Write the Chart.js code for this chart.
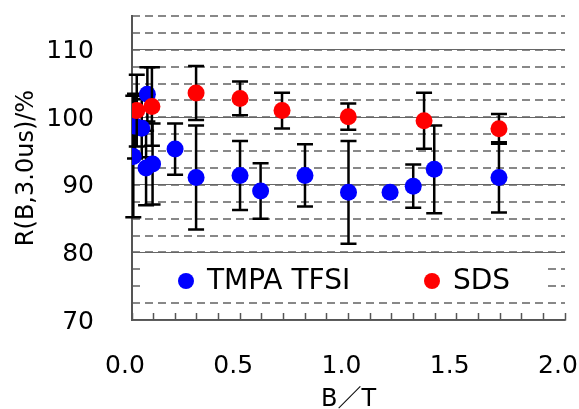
<!DOCTYPE html>
<html><head><meta charset="utf-8">
<script src="https://cdn.jsdelivr.net/npm/chart.js@4/dist/chart.umd.min.js"></script>
<style>html,body{margin:0;padding:0;background:#fff}#wrap{width:579px;height:409px}</style>
</head><body><div id="wrap"><canvas id="c" width="579" height="409"></canvas></div>
<script>
// ---- data ----
const seriesNames = ['TMPA TFSI', 'SDS'];
const tmpaB   = [0.006, 0.014, 0.045, 0.065, 0.071, 0.095, 0.199, 0.296, 0.499, 0.594, 0.799, 1.000, 1.192, 1.299, 1.396, 1.695];
const tmpaR   = [94.2, 98.7, 98.4, 92.5, 103.4, 93.1, 95.3, 91.1, 91.4, 89.1, 91.4, 88.9, 88.9, 89.8, 92.3, 91.1];
const tmpaErr = [9.0, 4.8, 4.3, 5.5, 4.0, 6.0, 3.8, 7.7, 5.1, 4.1, 4.6, 7.6, 0.1, 3.2, 6.5, 5.2];
const sdsB    = [0.022, 0.092, 0.296, 0.499, 0.693, 0.999, 1.349, 1.695];
const sdsR    = [101.0, 101.6, 103.6, 102.8, 101.0, 100.1, 99.5, 98.3];
const sdsErr  = [5.3, 5.8, 4.0, 2.5, 2.65, 1.95, 4.15, 2.2];
const yTickValues = [70, 80, 90, 100, 110];
const xTickLabels = ['0.0', '0.5', '1.0', '1.5', '2.0'];
const xTitle = 'B／T';
const yTitle = 'R(B,3.0us)/%';

const FONT = '"DejaVu Sans", "Noto Sans CJK JP", sans-serif';

const errorBars = {
  id: 'errorBars',
  beforeDatasetDraw(chart, args) {
    const ds = chart.data.datasets[args.index];
    if (!ds.errors) return;
    const ctx = chart.ctx, xs = chart.scales.x, ys = chart.scales.y;
    ctx.save();
    ctx.strokeStyle = '#000';
    ctx.lineWidth = 2.5;
    ds.data.forEach((p, i) => {
      const e = ds.errors[i];
      const px = xs.getPixelForValue(p.x);
      const top = ys.getPixelForValue(p.y + e), bot = ys.getPixelForValue(p.y - e);
      ctx.beginPath();
      ctx.moveTo(px, top); ctx.lineTo(px, bot);
      ctx.moveTo(px - 8, top); ctx.lineTo(px + 8, top);
      ctx.moveTo(px - 8, bot); ctx.lineTo(px + 8, bot);
      ctx.stroke();
    });
    ctx.restore();
  }
};

const insideLegend = {
  id: 'insideLegend',
  beforeDatasetsDraw(chart) {
    const {ctx, chartArea: a} = chart;
    ctx.save();
    ctx.fillStyle = '#ffffff';
    ctx.fillRect(a.left + 8, a.bottom - 64, a.right - a.left - 26, 44);
    ctx.font = '28px ' + FONT;
    ctx.textBaseline = 'middle';
    ctx.textAlign = 'left';
    const offs = [54, 300];
    chart.data.datasets.forEach((ds, i) => {
      const cx = a.left + offs[i], cy = a.bottom - 39;
      ctx.fillStyle = ds.backgroundColor;
      ctx.beginPath(); ctx.arc(cx, cy, 8, 0, Math.PI * 2); ctx.fill();
      ctx.fillStyle = '#000';
      ctx.fillText(ds.label, cx + 21, cy + 1);
    });
    ctx.restore();
  }
};

new Chart(document.getElementById('c'), {
  type: 'scatter',
  data: {
    datasets: [
      { label: seriesNames[0], data: tmpaB.map((b, i) => ({x: b, y: tmpaR[i]})), errors: tmpaErr,
        backgroundColor: '#0000ff', borderWidth: 0, pointRadius: 8.5, order: 2 },
      { label: seriesNames[1], data: sdsB.map((b, i) => ({x: b, y: sdsR[i]})), errors: sdsErr,
        backgroundColor: '#ff0000', borderWidth: 0, pointRadius: 8.5, order: 1 }
    ]
  },
  options: {
    responsive: false, animation: false, devicePixelRatio: 1,
    layout: { padding: { left: 0, right: 14, top: 16, bottom: 0 } },
    plugins: { legend: { display: false }, tooltip: { enabled: false } },
    scales: {
      x: {
        type: 'linear', position: 'bottom', min: 0, max: 2,
        afterFit: s => { s.height = 89; s.paddingLeft = 0; s.paddingRight = 0; },
        ticks: {
          stepSize: 0.1, autoSkip: false, maxRotation: 0, padding: 38, labelOffset: -7,
          color: '#000', font: { family: FONT, size: 25 },
          callback: v => {
            const k = Math.round(v * 2);
            return Math.abs(v * 2 - k) < 1e-6 ? xTickLabels[k] : '';
          }
        },
        grid: { drawOnChartArea: false, drawTicks: true, tickLength: -7, tickColor: '#555', tickWidth: 1.5 },
        border: { display: true, color: '#555', width: 1.5 },
        title: { display: true, text: xTitle, color: '#000', font: { family: FONT, size: 24, lineHeight: 0.75 }, padding: { top: 0, bottom: 0 } }
      },
      y: {
        type: 'linear', position: 'left', min: 70, max: 115,
        afterBuildTicks: s => { s.ticks = yTickValues.map(v => ({value: v})); },
        afterFit: s => { s.width = 132; s.paddingTop = 0; s.paddingBottom = 0; },
        ticks: { padding: 38, labelOffset: 2, color: '#000', font: { family: FONT, size: 25 } },
        grid: { color: '#666', lineWidth: 1, drawTicks: false, z: -1 },
        border: { display: true, color: '#555', width: 2 },
        title: { display: true, text: yTitle, color: '#000', font: { family: FONT, size: 24 }, padding: { top: 12, bottom: 0 } }
      },
      y2: {
        type: 'linear', position: 'right', min: 70, max: 115,
        afterFit: s => { s.width = 0; s.paddingTop = 0; s.paddingBottom = 0; },
        ticks: { display: false, stepSize: 2.5 },
        grid: { color: '#888', lineWidth: 2, drawTicks: false, z: -2 },
        border: { display: false, dash: [8, 5] }
      }
    }
  },
  plugins: [errorBars, insideLegend]
});
</script></body></html>
